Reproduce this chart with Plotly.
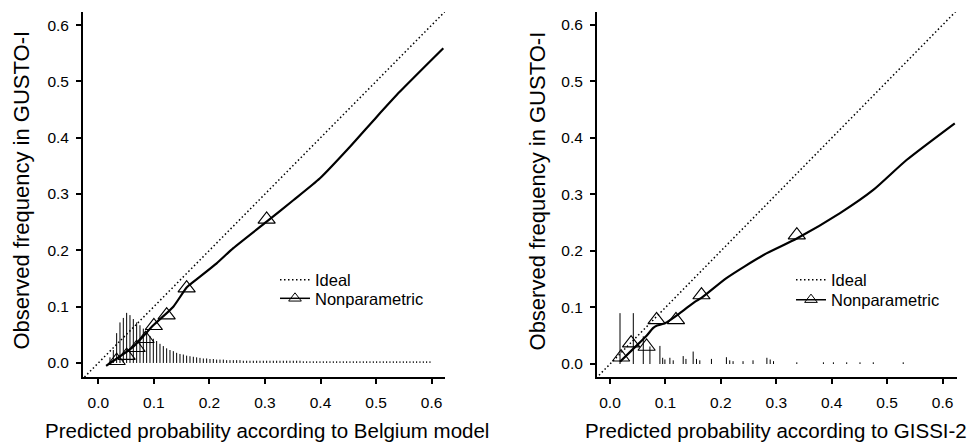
import plotly.graph_objects as go

# ---------------- data ----------------
tick_vals = [0.0, 0.1, 0.2, 0.3, 0.4, 0.5, 0.6]
tick_text = ["0.0", "0.1", "0.2", "0.3", "0.4", "0.5", "0.6"]

ideal_x = [-0.03, 0.63]
ideal_y = [-0.03, 0.63]

# Left panel: Belgium model
belg_curve_x = [0.014, 0.063, 0.099, 0.135, 0.159, 0.171, 0.213, 0.243, 0.303,
                0.351, 0.399, 0.453, 0.501, 0.543, 0.621]
belg_curve_y = [-0.005, 0.029, 0.067, 0.100, 0.134, 0.144, 0.177, 0.204, 0.251,
                0.289, 0.328, 0.384, 0.437, 0.482, 0.559]
belg_tri_x = [0.033, 0.051, 0.069, 0.085, 0.100, 0.123, 0.159, 0.303]
belg_tri_y = [0.004, 0.013, 0.027, 0.043, 0.066, 0.085, 0.133, 0.255]
belg_spike_x = [0.021, 0.027, 0.033, 0.039, 0.045, 0.051, 0.057, 0.063, 0.069, 0.075,
                0.081, 0.087, 0.093, 0.099, 0.105, 0.111, 0.117, 0.123, 0.129, 0.135,
                0.141, 0.147, 0.153, 0.159, 0.165, 0.171, 0.177, 0.183, 0.189, 0.195,
                0.201, 0.207, 0.213, 0.219, 0.225, 0.231, 0.237, 0.243, 0.249, 0.255,
                0.261, 0.267, 0.273, 0.279, 0.285, 0.291, 0.297, 0.303, 0.309, 0.315,
                0.321, 0.327, 0.333, 0.339, 0.345, 0.351, 0.357, 0.363, 0.369, 0.375,
                0.381, 0.387, 0.393, 0.399, 0.405, 0.411, 0.417, 0.423, 0.429, 0.435,
                0.441, 0.447, 0.453, 0.459, 0.465, 0.471, 0.477, 0.483, 0.489, 0.495,
                0.501, 0.507, 0.513, 0.519, 0.525, 0.531, 0.537, 0.543, 0.549, 0.555,
                0.561, 0.567, 0.573, 0.579, 0.585, 0.591, 0.597]
belg_spike_h = [0.010, 0.023, 0.053, 0.072, 0.080, 0.089, 0.085, 0.078, 0.072, 0.067,
                0.061, 0.054, 0.048, 0.043, 0.039, 0.034, 0.030, 0.026, 0.023, 0.021,
                0.018, 0.016, 0.015, 0.013, 0.012, 0.011, 0.010, 0.009, 0.008, 0.008,
                0.007, 0.007, 0.006, 0.006, 0.006, 0.005, 0.005, 0.005, 0.005, 0.005,
                0.004, 0.004, 0.004, 0.004, 0.004, 0.004, 0.004, 0.004, 0.004, 0.004,
                0.004, 0.004, 0.004, 0.004, 0.004, 0.004, 0.004, 0.004, 0.003, 0.003,
                0.003, 0.003, 0.003, 0.003, 0.003, 0.003, 0.003, 0.003, 0.003, 0.003,
                0.003, 0.003, 0.003, 0.003, 0.003, 0.003, 0.003, 0.003, 0.003, 0.003,
                0.003, 0.003, 0.003, 0.003, 0.003, 0.003, 0.003, 0.003, 0.003, 0.003,
                0.003, 0.003, 0.003, 0.003, 0.003, 0.003, 0.003]

# Right panel: GISSI-2
gissi_curve_x = [0.018, 0.040, 0.066, 0.078, 0.085, 0.099, 0.126, 0.153, 0.165,
                 0.210, 0.277, 0.337, 0.415, 0.475, 0.535, 0.622]
gissi_curve_y = [0.004, 0.025, 0.050, 0.064, 0.068, 0.072, 0.090, 0.110, 0.117,
                 0.152, 0.193, 0.222, 0.267, 0.308, 0.361, 0.426]
gissi_tri_x = [0.020, 0.038, 0.066, 0.084, 0.119, 0.165, 0.337]
gissi_tri_y = [0.012, 0.037, 0.031, 0.078, 0.078, 0.122, 0.228]
gissi_spike_x = [0.018, 0.042, 0.060, 0.072, 0.090, 0.095, 0.099, 0.108, 0.114, 0.132,
                 0.137, 0.150, 0.156, 0.162, 0.183, 0.210, 0.216, 0.222, 0.240, 0.258,
                 0.283, 0.289, 0.295, 0.337, 0.385, 0.403, 0.427, 0.451, 0.475, 0.529]
gissi_spike_h = [0.090, 0.090, 0.049, 0.031, 0.032, 0.011, 0.008, 0.011, 0.0065, 0.014,
                 0.009, 0.022, 0.009, 0.0065, 0.009, 0.012, 0.0065, 0.005, 0.005, 0.0065,
                 0.011, 0.008, 0.005, 0.003, 0.003, 0.003, 0.003, 0.003, 0.003, 0.003]

x_titles = ["Predicted probability according to Belgium model",
            "Predicted probability according to GISSI-2"]
y_title = "Observed frequency in GUSTO-I"

# ---------------- figure ----------------
FONT = "Liberation Sans, Arial, Helvetica, sans-serif"
fig = go.Figure()


def spikes(xs, hs):
    px, py = [], []
    for x, h in zip(xs, hs):
        px += [x, x, None]
        py += [0, h, None]
    return px, py


panels = [
    ("x", "y", belg_curve_x, belg_curve_y, belg_tri_x, belg_tri_y,
     belg_spike_x, belg_spike_h, "legend", "legend2"),
    ("x2", "y2", gissi_curve_x, gissi_curve_y, gissi_tri_x, gissi_tri_y,
     gissi_spike_x, gissi_spike_h, "legend3", "legend4"),
]

for xa, ya, cx, cy, tx, ty, sx, sh, lg1, lg2 in panels:
    spx, spy = spikes(sx, sh)
    fig.add_trace(go.Scatter(x=spx, y=spy, mode="lines", xaxis=xa, yaxis=ya,
                             line=dict(color="black", width=1), showlegend=False,
                             hoverinfo="skip"))
    fig.add_trace(go.Scatter(x=ideal_x, y=ideal_y, mode="lines", xaxis=xa, yaxis=ya,
                             name="Ideal", legend=lg1,
                             line=dict(color="black", width=1.5, dash="1.5px,2.5px")))
    fig.add_trace(go.Scatter(x=cx, y=cy, mode="lines", xaxis=xa, yaxis=ya,
                             line=dict(color="black", width=2.2, shape="spline",
                                       smoothing=0.6),
                             showlegend=False, legendgroup="np" + xa))
    fig.add_trace(go.Scatter(x=tx, y=ty, mode="markers", xaxis=xa, yaxis=ya,
                             marker=dict(symbol="triangle-up-open", size=15, color="black",
                                         line=dict(width=1.1, color="black")),
                             showlegend=False, legendgroup="np" + xa))
    # legend key only
    fig.add_trace(go.Scatter(x=[None], y=[None], mode="lines+markers", xaxis=xa, yaxis=ya,
                             name="Nonparametric", legend=lg2, legendgroup="np" + xa,
                             line=dict(color="black", width=1.5),
                             marker=dict(symbol="triangle-up-open", size=11, color="black",
                                         line=dict(width=1, color="black"))))

axis_common = dict(
    tickvals=tick_vals, ticktext=tick_text, showgrid=False, zeroline=False,
    showline=True, linecolor="black", linewidth=2, ticks="outside", ticklen=5,
    tickwidth=1.5, tickcolor="black", automargin=False,
    tickfont=dict(family=FONT, size=15.5, color="black"),
)

ydom = [0.149, 0.973]
fig.update_layout(
    width=969, height=443, margin=dict(l=0, r=0, t=0, b=0),
    paper_bgcolor="white", plot_bgcolor="white",
    font=dict(family=FONT, color="black"),
    xaxis=dict(domain=[0.0857, 0.4592], range=[-0.0275, 0.624], anchor="y",
               ticklabelstandoff=5, **axis_common),
    yaxis=dict(domain=ydom, range=[-0.0249, 0.6234], anchor="x",
               ticklabelstandoff=4, **axis_common),
    xaxis2=dict(domain=[0.6161, 0.9876], range=[-0.0235, 0.626], anchor="y2",
                ticklabelstandoff=5, **axis_common),
    yaxis2=dict(domain=ydom, range=[-0.023, 0.623], anchor="x2",
                ticklabelstandoff=4, **axis_common),
)

leg_common = dict(bgcolor="rgba(0,0,0,0)", borderwidth=0, itemwidth=30,
                  font=dict(family=FONT, size=16.5, color="black"),
                  xanchor="left", yanchor="middle", itemclick=False, itemdoubleclick=False)
fig.update_layout(
    legend=dict(x=0.2838, y=0.368, **leg_common),
    legend2=dict(x=0.2838, y=0.326, **leg_common),
    legend3=dict(x=0.8163, y=0.368, **leg_common),
    legend4=dict(x=0.8163, y=0.323, **leg_common),
)

ann = []
title_font = dict(family=FONT, size=20.5, color="black")
ytitle_font = dict(family=FONT, size=22, color="black")
ann.append(dict(text=x_titles[0], x=0.2755, y=0.0293, xref="paper", yref="paper",
                xanchor="center", yanchor="middle", showarrow=False, font=title_font))
ann.append(dict(text=x_titles[1], x=0.8008, y=0.0293, xref="paper", yref="paper",
                xanchor="center", yanchor="middle", showarrow=False, font=title_font))
ann.append(dict(text=y_title, x=0.0227, y=0.572, xref="paper", yref="paper",
                xanchor="center", yanchor="middle", textangle=-90, showarrow=False,
                font=ytitle_font))
ann.append(dict(text=y_title, x=0.5552, y=0.570, xref="paper", yref="paper",
                xanchor="center", yanchor="middle", textangle=-90, showarrow=False,
                font=ytitle_font))
fig.update_layout(annotations=ann)

fig.write_html("out.html", config={"displayModeBar": False},
               post_script="document.body.style.margin='0';"
               "document.body.style.padding='0';")
